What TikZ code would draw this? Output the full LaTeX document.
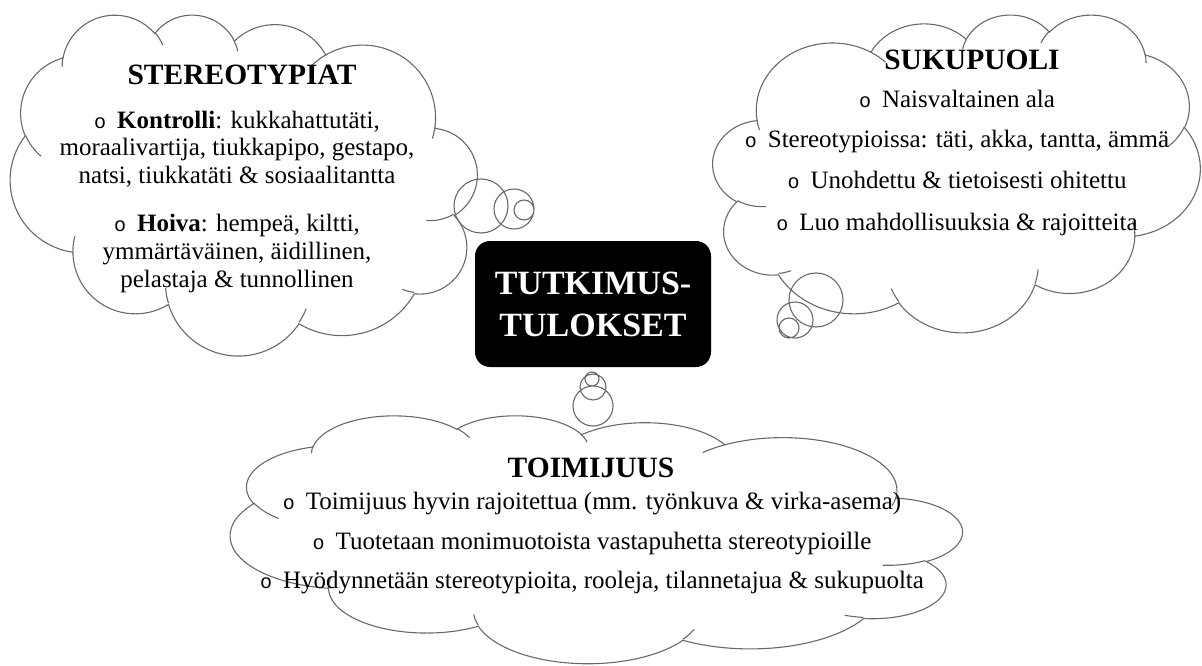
\documentclass[tikz,border=0pt]{standalone}
\usepackage{fontspec}
\setmainfont{Liberation Serif}
\newfontfamily\bulletfont{Liberation Mono}
\definecolor{cloudgray}{RGB}{105,105,105}

\tikzset{
	puff/.style n args={4}{x radius=#1, y radius=#2,
		start angle={atan2(#1*sin(#3),#2*cos(#3))},
		delta angle={#4+mod(atan2(#1*sin(#3+#4),#2*cos(#3+#4))-atan2(#1*sin(#3),#2*cos(#3))-#4+900,360)-180}},
	cloudline/.style={draw=cloudgray, line width=1.1pt},
	cloudtitle/.style={font=\bfseries\fontsize{29.5}{30}\selectfont, anchor=base},
	cloudtext/.style={font=\fontsize{25}{26}\selectfont, anchor=base},
}
\newcommand\bul{{\bulletfont\fontsize{20}{20}\selectfont o}\hspace{11pt}}
% corner x, corner y, x step, y step, 1 or -1 (mirrored)
\newcommand\thinkcloud[5]{%
	\begin{scope}[shift={(#1,#2)}, xscale=#5, yscale=-1, x={(#3pt,0pt)}, y={(0pt,#4pt)}]
	\draw[cloudline] (3900,14370)
		arc[puff={6753}{9190}{-190.4875}{123.7805}]
		arc[puff={5333}{7267}{-144.1024}{89.9452}]
		arc[puff={4365}{5945}{-145.8079}{99.7230}]
		arc[puff={4857}{6595}{-130.9861}{117.2417}]
		arc[puff={5333}{7273}{-78.7089}{109.0269}]
		arc[puff={6775}{9220}{-46.2673}{130.2690}]
		arc[puff={5785}{7867}{0.6250}{114.0333}]
		arc[puff={6752}{9215}{22.4516}{115.1726}]
		arc[puff={7720}{10543}{66.2426}{75.7110}]
		arc[puff={4360}{5918}{-274.9421}{146.7356}]
		arc[puff={4345}{5945}{-246.8285}{152.5189}] -- cycle;
	\foreach \px/\py/\rx/\ry/\sa/\sw in {4693/26177/4345/5945/86.7420/26.4295,
		6928/34899/4360/5918/73.6105/11.4475, 16478/39090/6752/9215/137.6242/14.0811,
		28827/34751/6752/9215/6.4533/15.9984, 37224/28168/5785/7867/-19.4/20.0,
		41798/15354/5333/7273/30.3180/27.7515, 38324/5426/4857/6595/-13.7443/14.8589,
		29078/3952/4857/6595/-149.1815/18.1954, 22141/4720/4365/5945/-163.4943/17.6864,
		14000/5192/6753/9190/-66.7070/12.3194, 4127/15789/6753/9190/157.6544/11.8582}
	{ \draw[cloudline] (\px,\py) arc[puff={\rx}{\ry}{\sa}{\sw}];
	}
	\end{scope}}

\begin{document}
\begin{tikzpicture}[x=1pt,y=-1pt]
	\useasboundingbox (0,0) rectangle (1202,666);
	% clouds
	\thinkcloud{477}{14}{0.0108102}{0.0078935}{-1}
	\thinkcloud{713}{14}{0.0112731}{0.0073611}{1}
	\thinkcloud{962}{415}{0.0169444}{0.0057407}{-1}
	% bubbles
	\draw[cloudline] (481,206) circle[radius=27] (514,209) circle[radius=20] (524,210) circle[radius=10];
	\draw[cloudline] (816,300) circle[radius=27] (795,320) circle[radius=18] (789,328) circle[radius=10];
	\draw[cloudline] (593,406) circle[radius=20] (593,387) circle[radius=13] (592,379) circle[radius=7];

	\node[fill=black, rounded corners=15pt, minimum width=236pt, minimum height=126pt, text=white, align=center,
		font=\bfseries\fontsize{34}{42}\selectfont] (tulos) at (593,304) {TUTKIMUS-\\TULOKSET};

	\node[cloudtitle] (stereo) at (242,85) {STEREOTYPIAT};
	\foreach \y/\txt [count=\i] in {129/{\bul\textbf{Kontrolli}: kukkahattutäti,},
		156/{moraalivartija, tiukkapipo, gestapo,}, 183/{natsi, tiukkatäti \& sosiaalitantta},
		231/{\bul\textbf{Hoiva}: hempeä, kiltti,}, 259/{ymmärtäväinen, äidillinen,},
		287/{pelastaja \& tunnollinen}}
	{ \node[cloudtext] (stereo\i) at (237,\y) {\txt};
	}

	\node[cloudtitle] (suku) at (972,70) {SUKUPUOLI};
	\foreach \y/\txt [count=\i] in {108/{\bul Naisvaltainen ala},
		148/{\bul Stereotypioissa: täti, akka, tantta, ämmä},
		189/{\bul Unohdettu \& tietoisesti ohitettu}, 230/{\bul Luo mahdollisuuksia \& rajoitteita}}
	{ \node[cloudtext] (suku\i) at (957,\y) {\txt};
	}

	\node[cloudtitle] (toimi) at (591,477) {TOIMIJUUS};
	\foreach \y/\txt [count=\i] in {509/{\bul Toimijuus hyvin rajoitettua (mm. työnkuva \& virka-asema)},
		549/{\bul Tuotetaan monimuotoista vastapuhetta stereotypioille},
		588/{\bul Hyödynnetään stereotypioita, rooleja, tilannetajua \& sukupuolta}}
	{ \node[cloudtext] (toimi\i) at (592,\y) {\txt};
	}
\end{tikzpicture}
\end{document}
